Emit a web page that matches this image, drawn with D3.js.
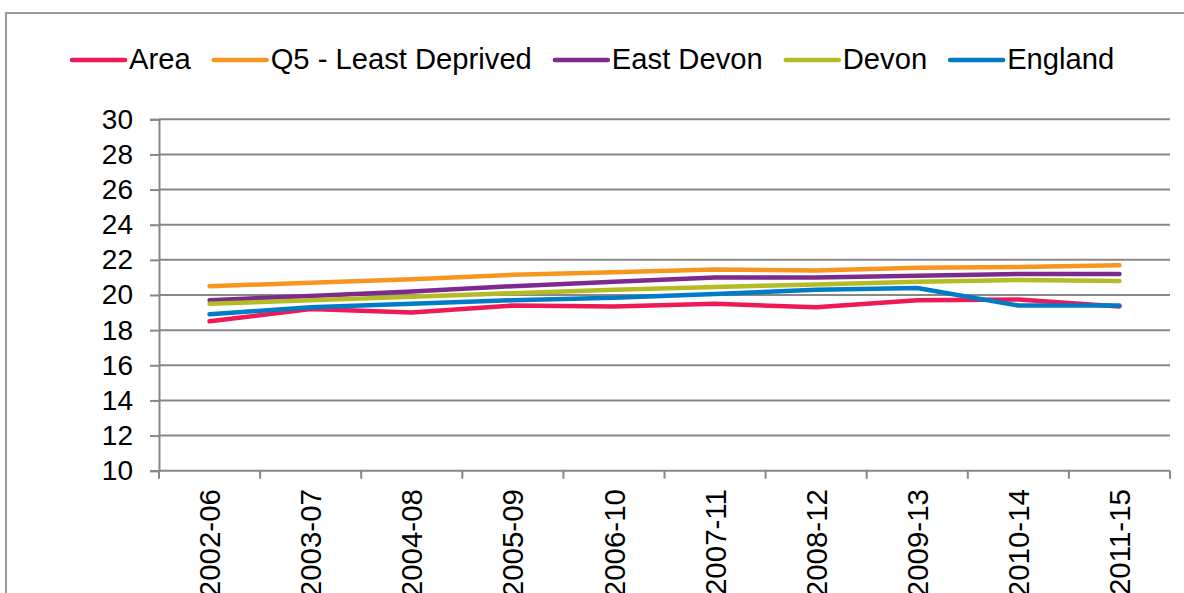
<!DOCTYPE html>
<html>
<head>
<meta charset="utf-8">
<script src="https://cdn.jsdelivr.net/npm/d3@7"></script>
<style>
  html, body { margin: 0; padding: 0; background: #fff; }
  svg { display: block; font-family: "Liberation Sans", Arial, sans-serif; }
</style>
</head>
<body>
<svg id="chart" width="1184" height="593"></svg>
<script>
  // données
  var periods = ["2002-06", "2003-07", "2004-08", "2005-09", "2006-10", "2007-11", "2008-12", "2009-13", "2010-14", "2011-15"];
  var seriesNames = ["Area", "Q5 - Least Deprived", "East Devon", "Devon", "England"];
  var seriesColors = ["#ED1A57", "#F7961E", "#7D2A8C", "#B3BC24", "#007BC8"];
  var area = [18.5, 19.2, 19.0, 19.4, 19.35, 19.5, 19.3, 19.7, 19.75, 19.35];
  var q5 = [20.5, 20.7, 20.9, 21.15, 21.3, 21.45, 21.4, 21.55, 21.6, 21.7];
  var eastDevon = [19.7, 19.95, 20.2, 20.5, 20.75, 21.0, 21.0, 21.1, 21.2, 21.2];
  var devon = [19.5, 19.7, 19.9, 20.1, 20.3, 20.45, 20.6, 20.75, 20.85, 20.8];
  var england = [18.9, 19.3, 19.5, 19.7, 19.85, 20.05, 20.3, 20.4, 19.4, 19.4];
  var yTicks = [10, 12, 14, 16, 18, 20, 22, 24, 26, 28, 30];

  var seriesValues = [area, q5, eastDevon, devon, england];
  var grey = "#878787";

  var svg = d3.select("#chart");

  // cadre extérieur
  svg.append("rect")
    .attr("x", 6).attr("y", 13)
    .attr("width", 1300).attr("height", 800)
    .attr("fill", "none")
    .attr("stroke", "#9a9a9a")
    .attr("stroke-width", 2);

  /***** Échelles *****/
  var x = d3.scaleBand().domain(periods).range([159, 1170]);
  var y = d3.scaleLinear().domain([10, 30]).range([470.7, 119.3]);

  // quadrillage
  svg.append("g")
    .selectAll("line")
    .data(yTicks.filter(function (d) { return d > 10; }))
    .enter()
    .append("line")
    .attr("x1", 159).attr("x2", 1170)
    .attr("y1", function (d) { return y(d); })
    .attr("y2", function (d) { return y(d); })
    .attr("stroke", grey)
    .attr("stroke-width", 2);

  // axe Y
  var yAxis = d3.axisLeft(y).tickValues(yTicks).tickSize(9).tickPadding(17);
  var yG = svg.append("g").attr("transform", "translate(159,0)").call(yAxis);
  yG.select(".domain").attr("stroke", grey).attr("stroke-width", 2);
  yG.selectAll(".tick line").attr("stroke", grey).attr("stroke-width", 2);
  yG.selectAll(".tick text")
    .attr("font-size", 28)
    .attr("fill", "#000")
    .attr("font-family", "Liberation Sans, Arial, sans-serif");

  // axe X
  svg.append("line")
    .attr("x1", 159).attr("x2", 1170)
    .attr("y1", y(10)).attr("y2", y(10))
    .attr("stroke", grey).attr("stroke-width", 2);

  var bounds = periods.map(function (p) { return x(p); }).concat([x.range()[1]]);
  svg.append("g")
    .selectAll("line")
    .data(bounds)
    .enter()
    .append("line")
    .attr("x1", function (d) { return d; })
    .attr("x2", function (d) { return d; })
    .attr("y1", y(10))
    .attr("y2", y(10) + 8)
    .attr("stroke", grey)
    .attr("stroke-width", 2);

  // étiquettes verticales (coupées en bas comme sur l'original)
  svg.append("g")
    .selectAll("text")
    .data(periods)
    .enter()
    .append("text")
    .attr("transform", function (d) {
      return "translate(" + (x(d) + x.bandwidth() / 2) + ",489) rotate(-90)";
    })
    .attr("dy", "0.36em")
    .attr("text-anchor", "end")
    .attr("font-size", 29.5)
    .attr("fill", "#000")
    .text(function (d) { return d; });

  /***** Séries *****/
  var line = d3.line()
    .x(function (d, i) { return x(periods[i]) + x.bandwidth() / 2; })
    .y(function (d) { return y(d); });

  svg.append("g")
    .selectAll("path")
    .data(seriesValues)
    .enter()
    .append("path")
    .attr("d", line)
    .attr("fill", "none")
    .attr("stroke", function (d, i) { return seriesColors[i]; })
    .attr("stroke-width", 4.5)
    .attr("stroke-linecap", "round")
    .attr("stroke-linejoin", "round");

  /***** Légende *****/
  var legend = svg.append("g");
  var cursor = 72;
  seriesNames.forEach(function (name, i) {
    legend.append("line")
      .attr("x1", cursor).attr("x2", cursor + 53)
      .attr("y1", 60).attr("y2", 60)
      .attr("stroke", seriesColors[i])
      .attr("stroke-width", 4.5)
      .attr("stroke-linecap", "round");
    var t = legend.append("text")
      .attr("x", cursor + 57)
      .attr("y", 69)
      .attr("font-size", 29.2)
      .attr("fill", "#000")
      .text(name);
    cursor += 57 + t.node().getComputedTextLength() + 23;
  });
</script>
</body>
</html>
